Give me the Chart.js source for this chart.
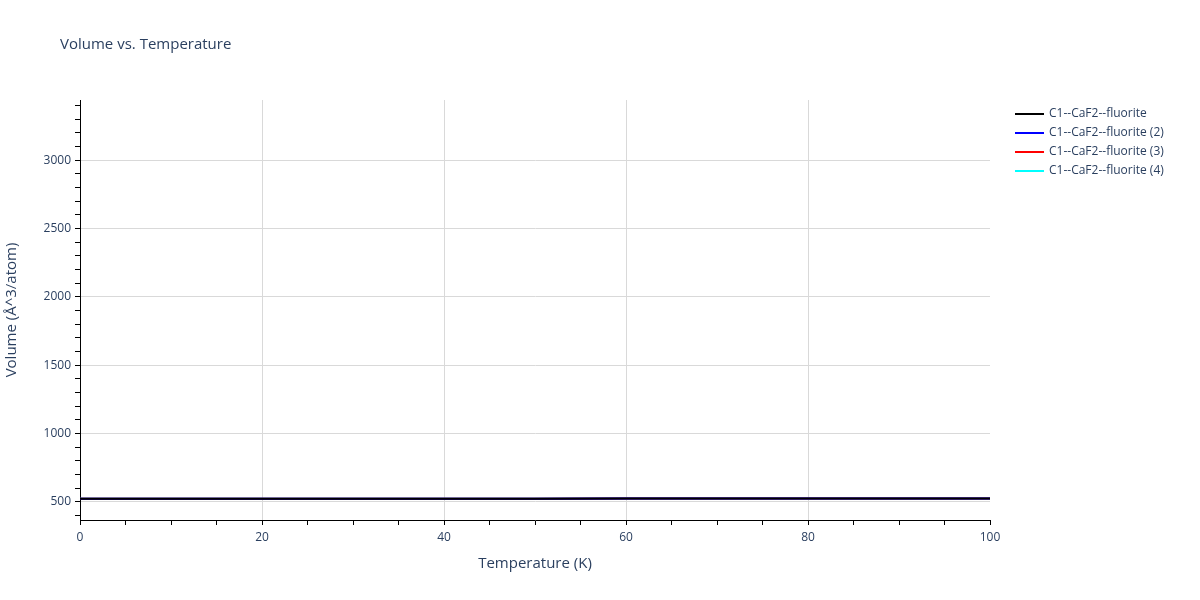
<!DOCTYPE html>
<html>
<head>
<meta charset="utf-8">
<script src="https://cdn.jsdelivr.net/npm/chart.js@4"></script>
<style>
  html, body { margin: 0; padding: 0; background: #fff; }
  #wrap { width: 1200px; height: 600px; position: relative; }
</style>
</head>
<body>
<div id="wrap"><canvas id="chart" width="1200" height="600"></canvas></div>
<script>
const temperatures = [0, 10, 20, 30, 40, 50, 60, 70, 80, 90, 100];
const volume1 = [523.6, 523.7, 523.8, 523.9, 524.1, 524.3, 524.5, 524.7, 525.0, 525.3, 525.6];
const volume2 = [523.5, 523.6, 523.7, 523.8, 524.0, 524.2, 524.4, 524.6, 524.9, 525.2, 525.5];
const volume3 = [523.5, 523.6, 523.7, 523.8, 524.0, 524.2, 524.4, 524.6, 524.9, 525.2, 525.5];
const volume4 = [523.5, 523.6, 523.7, 523.8, 524.0, 524.2, 524.4, 524.6, 524.9, 525.2, 525.5];
const seriesNames = ['C1--CaF2--fluorite', 'C1--CaF2--fluorite (2)', 'C1--CaF2--fluorite (3)', 'C1--CaF2--fluorite (4)'];
const seriesColors = ['#000000', '#0000ff', '#ff0000', '#00ffff'];

const fontFamily = '"Open Sans", "Noto Sans", sans-serif';
const textColor = '#2a3f5f';

function toPoints(vals) {
    return temperatures.map((t, i) => ({ x: t, y: vals[i] }));
}

// title + legend drawn on the canvas
const decorations = {
    id: 'decorations',
    afterDraw(chart) {
        const ctx = chart.ctx;
        ctx.save();
        ctx.fillStyle = textColor;
        ctx.textBaseline = 'middle';
        ctx.textAlign = 'left';
        ctx.font = '15px ' + fontFamily;
        ctx.fillText('Volume vs. Temperature', 60, 45);

        ctx.font = '12px ' + fontFamily;
        seriesNames.forEach((name, i) => {
            const y = 114 + i * 19;
            ctx.strokeStyle = seriesColors[i];
            ctx.lineWidth = 2;
            ctx.beginPath();
            ctx.moveTo(1015, y);
            ctx.lineTo(1044, y);
            ctx.stroke();
            ctx.fillStyle = textColor;
            ctx.fillText(name, 1049, y);
        });
        ctx.restore();
    }
};

new Chart(document.getElementById('chart').getContext('2d'), {
    type: 'line',
    data: {
        datasets: [volume1, volume2, volume3, volume4].map((vals, i) => ({
            label: seriesNames[i],
            data: toPoints(vals),
            borderColor: seriesColors[i],
            backgroundColor: seriesColors[i],
            borderWidth: 2,
            pointRadius: 0,
            tension: 0
        }))
    },
    options: {
        responsive: false,
        animation: false,
        layout: { padding: { top: 100, right: 210, left: 0, bottom: 0 } },
        plugins: {
            legend: { display: false },
            title: { display: false },
            tooltip: { enabled: false }
        },
        scales: {
            x: {
                type: 'linear',
                min: 0,
                max: 100,
                afterBuildTicks: scale => {
                    const t = [];
                    for (let v = 0; v <= 100; v += 5) t.push({ value: v });
                    scale.ticks = t;
                },
                afterFit: scale => { scale.height = 80; },
                ticks: {
                    autoSkip: false,
                    maxRotation: 0,
                    padding: 5,
                    color: textColor,
                    font: { family: fontFamily, size: 12 },
                    callback: v => (v % 20 === 0 ? String(v) : '')
                },
                grid: {
                    color: c => (c.tick && c.tick.value % 20 === 0 && c.tick.value > 0 && c.tick.value < 100) ? '#d9d9d9' : 'rgba(0,0,0,0)',
                    tickColor: '#000',
                    tickLength: 5,
                    lineWidth: 1
                },
                border: { display: true, color: '#000', width: 1 },
                title: {
                    display: true,
                    text: 'Temperature (K)',
                    color: textColor,
                    font: { family: fontFamily, size: 15 },
                    padding: { top: 0, bottom: 27 }
                }
            },
            y: {
                type: 'linear',
                min: 368,
                max: 3441,
                afterBuildTicks: scale => {
                    const t = [];
                    for (let v = 400; v <= 3400; v += 100) t.push({ value: v });
                    scale.ticks = t;
                },
                afterFit: scale => { scale.width = 80; },
                ticks: {
                    autoSkip: false,
                    padding: 4,
                    color: textColor,
                    font: { family: fontFamily, size: 12 },
                    callback: v => (v % 500 === 0 ? String(v) : '')
                },
                grid: {
                    color: c => (c.tick && c.tick.value % 500 === 0) ? '#d9d9d9' : 'rgba(0,0,0,0)',
                    tickColor: '#000',
                    tickLength: 5,
                    lineWidth: 1
                },
                border: { display: true, color: '#000', width: 1 },
                title: {
                    display: true,
                    text: 'Volume (Å^3/atom)',
                    color: textColor,
                    font: { family: fontFamily, size: 15 },
                    padding: { top: 3, bottom: 0 }
                }
            }
        }
    },
    plugins: [decorations]
});
</script>
</body>
</html>
